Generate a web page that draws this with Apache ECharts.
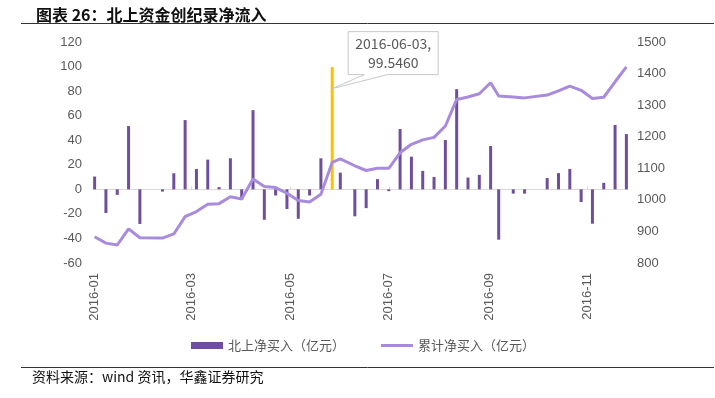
<!DOCTYPE html>
<html>
<head>
<meta charset="utf-8">
<script src="https://cdn.jsdelivr.net/npm/echarts@6/dist/echarts.min.js"></script>
<style>
  html, body { margin: 0; padding: 0; background: #fff; }
  #main { width: 715px; height: 398px; }
</style>
</head>
<body>
<div id="main"></div>
<script>
// weekly data (week ending dates)
const dates = [
  "2016-01-08", "2016-01-15", "2016-01-22", "2016-01-29", "2016-02-05",
  "2016-02-19", "2016-02-26", "2016-03-04", "2016-03-11", "2016-03-18",
  "2016-03-25", "2016-04-01", "2016-04-08", "2016-04-15", "2016-04-22",
  "2016-04-29", "2016-05-06", "2016-05-13", "2016-05-20", "2016-05-27",
  "2016-06-03", "2016-06-08", "2016-06-17", "2016-06-24", "2016-07-01",
  "2016-07-08", "2016-07-15", "2016-07-22", "2016-07-29", "2016-08-05",
  "2016-08-12", "2016-08-19", "2016-08-26", "2016-09-02", "2016-09-09",
  "2016-09-14", "2016-09-23", "2016-09-30", "2016-10-14", "2016-10-21",
  "2016-10-28", "2016-11-04", "2016-11-11", "2016-11-18", "2016-11-25",
  "2016-12-02"
];

// 北上净买入（亿元）
const netBuy = [
  10.4, -19.3, -4.5, 51.5, -28.2, -1.8, 13.1, 56.4, 16.6, 24.2,
  1.8, 25.3, -8.5, 64.5, -24.8, -5, -16, -24, -5, 25.3,
  99.546, 13.6, -22, -15.3, 8.3, -1.5, 49.1, 26.6, 15, 10.1,
  40.2, 81.6, 9.6, 11.8, 35.3, -41, -3.5, -3.5, 9.2, 13.2,
  16.6, -10.4, -28, 5.3, 52.4, 45
];

// 累计净买入（亿元）
const cumBuy = [
  883, 863, 857, 908, 880, 879, 892, 947, 963, 986,
  988, 1010, 1003, 1066, 1042, 1039, 1021, 998, 993, 1018,
  1119, 1130, 1108, 1093, 1100, 1100, 1149, 1176, 1190, 1198,
  1234, 1318, 1326, 1336, 1371, 1329, 1326, 1323, 1332, 1345,
  1360, 1347, 1321, 1325, 1374, 1421
];

const tickDates = ["2016-01-08", "2016-03-08", "2016-05-08", "2016-07-08", "2016-09-08", "2016-11-08"];
const recordDate = "2016-06-03";
const recordLabel = "2016-06-03,\n99.5460";

const toTime = (s) => {
  const p = s.split("-");
  return new Date(+p[0], +p[1] - 1, +p[2]).getTime();
};

const axisMin = toTime("2016-01-07");
const axisMax = toTime("2016-12-03");
const tickTimes = tickDates.map(toTime);

const barData = dates.map((d, i) => {
  const item = { value: [toTime(d), netBuy[i]] };
  if (d === recordDate) item.itemStyle = { color: "#FFC000" };
  return item;
});
const lineData = dates.map((d, i) => [toTime(d), cumBuy[i]]);

const labelColor = "#595959";
const cjk = "'Noto Sans CJK SC', 'Noto Sans', sans-serif";

var myChart = echarts.init(document.getElementById("main"));

var option = {
  animation: false,
  textStyle: { fontFamily: "'Liberation Sans', Arial, sans-serif" },
  title: {
    text: "图表 26：北上资金创纪录净流入",
    left: 31,
    top: 2,
    textStyle: { fontFamily: cjk, fontSize: 16, fontWeight: "bold", color: "#111" },
  },
  grid: { left: 93, right: 87, top: 42, bottom: 135 },
  legend: {
    left: 186,
    top: 334,
    itemWidth: 32,
    itemHeight: 7,
    itemGap: 36,
    textStyle: { fontFamily: cjk, fontSize: 13, color: labelColor },
    data: [
      { name: "北上净买入（亿元）", icon: "rect" },
      { name: "累计净买入（亿元）", icon: "path://M0,0H32V3H0Z" },
    ],
  },
  xAxis: [
    {
      type: "value",
      min: axisMin,
      max: axisMax,
      axisLine: { show: false, onZero: false },
      axisTick: { show: false },
      splitLine: { show: false },
      axisLabel: {
        rotate: 90,
        margin: 10,
        fontSize: 13,
        color: labelColor,
        customValues: tickTimes,
        formatter: (v) => {
          const d = new Date(v);
          return d.getFullYear() + "-" + String(d.getMonth() + 1).padStart(2, "0");
        },
      },
    },
    {
      type: "value",
      min: axisMin,
      max: axisMax,
      axisLine: { show: true, onZero: true, onZeroAxisIndex: 0, lineStyle: { color: "#d9d9d9", width: 1 } },
      axisTick: { show: true, length: 3, customValues: tickTimes, lineStyle: { color: "#d9d9d9" } },
      axisLabel: { show: false },
      splitLine: { show: false },
    },
  ],
  yAxis: [
    {
      type: "value",
      min: -60,
      max: 120,
      interval: 20,
      axisLine: { show: false },
      axisTick: { show: false },
      splitLine: { show: false },
      axisLabel: { fontSize: 13, color: labelColor, margin: 11 },
    },
    {
      type: "value",
      min: 800,
      max: 1500,
      interval: 100,
      axisLine: { show: false },
      axisTick: { show: false },
      splitLine: { show: false },
      axisLabel: { fontSize: 13, color: labelColor, margin: 9, formatter: (v) => String(v) },
    },
  ],
  series: [
    {
      name: "北上净买入（亿元）",
      type: "bar",
      xAxisIndex: 0,
      yAxisIndex: 0,
      barWidth: 3,
      itemStyle: { color: "#6F4F9B" },
      data: barData,
      z: 2,
    },
    {
      name: "累计净买入（亿元）",
      type: "line",
      xAxisIndex: 0,
      yAxisIndex: 1,
      symbol: "none",
      lineStyle: { color: "#A98BDD", width: 3 },
      itemStyle: { color: "#A98BDD" },
      data: lineData,
      z: 3,
    },
  ],
  graphic: [
    { id: "ruleTop", type: "line", shape: { x1: 21, y1: 23.5, x2: 714, y2: 23.5 }, style: { stroke: "#333", lineWidth: 1 } },
    { id: "ruleBottom", type: "line", shape: { x1: 21, y1: 367.5, x2: 714, y2: 367.5 }, style: { stroke: "#333", lineWidth: 1 } },
    {
      id: "source",
      type: "text",
      left: 32,
      top: 370,
      style: { text: "资料来源：wind 资讯，华鑫证券研究", font: "14px " + cjk, fill: "#111" },
    },
  ],
};
myChart.setOption(option);

// callout box for the record week, anchored on the bar
const p = myChart.convertToPixel({ xAxisIndex: 0, yAxisIndex: 0 }, [toTime(recordDate), 82]);
const bl = p[0] + 16, br = p[0] + 106, bt = p[1] - 57, bb = p[1] - 14;
myChart.setOption({
  graphic: [
    {
      id: "calloutBox",
      type: "polygon",
      shape: {
        points: [[bl, bt], [br, bt], [br, bb], [p[0] + 55, bb], [p[0], p[1]], [p[0] + 32, bb], [bl, bb]],
      },
      style: { fill: "#fff", stroke: "#c8c8c8", lineWidth: 1 },
      z: 10,
    },
    {
      id: "calloutText",
      type: "text",
      x: p[0] + 61,
      y: p[1] - 35,
      style: {
        text: recordLabel,
        font: "14px " + cjk,
        fill: labelColor,
        align: "center",
        verticalAlign: "middle",
        lineHeight: 19,
      },
      z: 11,
    },
  ],
});
</script>
</body>
</html>
